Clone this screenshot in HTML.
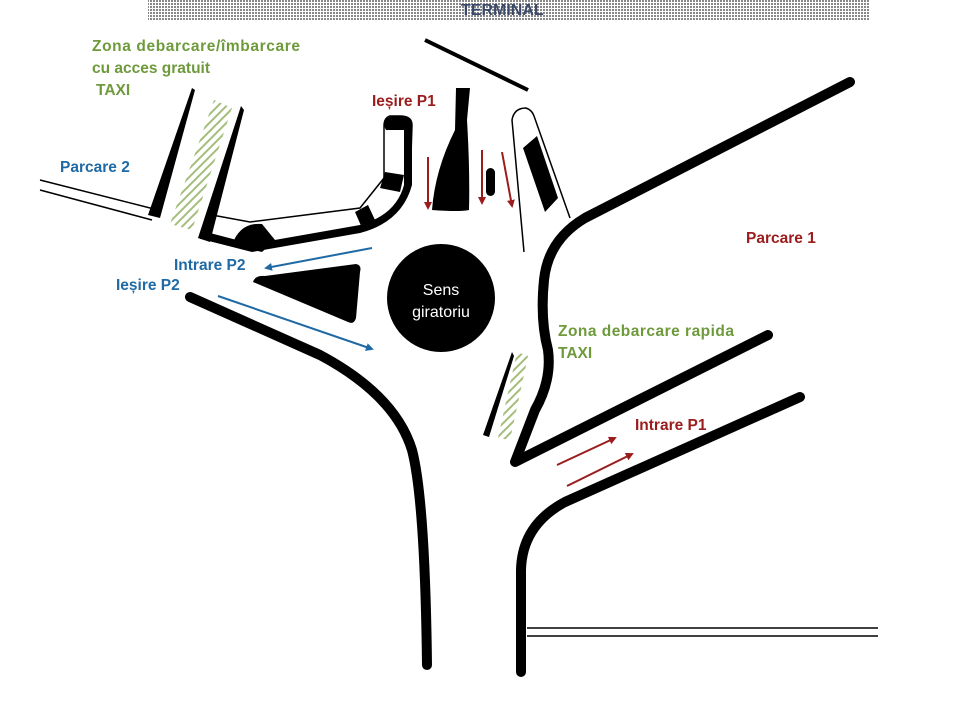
<!DOCTYPE html>
<html><head><meta charset="utf-8"><style>
html,body{margin:0;padding:0;background:#fff;}
svg{display:block;font-family:"Liberation Sans",sans-serif;}
.t{font-weight:bold;font-size:15.5px;}
</style></head><body>
<svg width="960" height="720" viewBox="0 0 960 720" xmlns="http://www.w3.org/2000/svg">
<defs>
<pattern id="dots" width="3" height="3" patternUnits="userSpaceOnUse"><rect width="3" height="3" fill="#fff"/><rect width="2" height="2" fill="#888"/></pattern>
<pattern id="hatch" width="6" height="6" patternUnits="userSpaceOnUse" patternTransform="rotate(-45)"><rect width="6" height="6" fill="#fff"/><rect width="6" height="2" fill="#a3bd7a"/></pattern>
<marker id="ar" markerWidth="8" markerHeight="8" refX="6" refY="4" orient="auto" markerUnits="userSpaceOnUse"><path d="M0,0 L8,4 L0,8 z" fill="#9b1c1c"/></marker>
<marker id="ab" markerWidth="8" markerHeight="8" refX="6" refY="4" orient="auto" markerUnits="userSpaceOnUse"><path d="M0,0 L8,4 L0,8 z" fill="#1f6aa5"/></marker>
</defs>
<rect x="148" y="0" width="722" height="20" fill="url(#dots)"/>
<text x="461" y="15" fill="#3b4a6b" font-size="16" font-weight="bold">TERMINAL</text>

<g fill="none" stroke="#000" stroke-width="10" stroke-linecap="round" stroke-linejoin="round">
<path d="M850,82 L585,218 Q548,240 544,280 Q540,320 548,350 Q552,380 535,410 L515,462 L768,335"/>
<path d="M800,397 L565,502 Q522,525 521,570 L521,672"/>
<path d="M190,297 L320,355 Q395,395 412,450 Q425,500 427,665"/>
</g>
<path d="M40,180 L158,210 M40,190 L152,220" stroke="#000" stroke-width="1.5"/>
<path d="M527,628 L878,628 M527,636 L878,636" stroke="#000" stroke-width="1.5"/>
<path d="M425,40 L528,90" stroke="#000" stroke-width="4"/>

<path d="M192,88 L195,90 L160,218 L148,215 Z" fill="#000"/>
<path d="M241,106 L244,110 L210,242 L198,238 Z" fill="#000"/>
<path d="M214,100 L232,108 L192,230 L170,224 Z" fill="url(#hatch)"/>

<path d="M200,238 L250,250 L360,232 Q400,222 410,185 L412,125 Q412,116 400,116 L390,116 Q384,118 384,126 L384,178 L360,208 L250,222 L212,215" fill="none" stroke="#000" stroke-width="1.5"/>
<path d="M205,240 L252,252 L360,233 Q402,222 412,185 L412,125 Q412,116 402,116 L392,116 Q384,118 384,126 L386,130 L404,130 L404,185 Q396,215 360,225 L252,244 L210,233 Z" fill="#000"/>
<path d="M232,245 Q240,222 262,224 L275,240 L262,252 Z" fill="#000"/>
<path d="M355,212 L368,205 L375,220 L362,228 Z" fill="#000"/>
<path d="M385,172 L404,175 L400,192 L380,188 Z" fill="#000"/>

<path d="M456,88 L470,88 L467,120 Q470,170 469,210 Q460,212 432,210 Q435,170 455,130 Z" fill="#000"/>
<rect x="486" y="168" width="9" height="28" rx="4.5" fill="#000"/>
<path d="M524,252 L512,120 Q514,108 526,108 Q532,110 534,116 L570,218" fill="none" stroke="#000" stroke-width="1.5"/>
<path d="M523,148 L537,136 L558,198 L545,212 Z" fill="#000"/>

<circle cx="441" cy="298" r="54" fill="#000"/>
<text x="441" y="295" text-anchor="middle" fill="#fff" font-size="16">Sens</text>
<text x="441" y="317" text-anchor="middle" fill="#fff" font-size="16">giratoriu</text>
<path d="M253,282 Q255,275 265,276 L356,264 Q362,265 360,272 L356,318 Q354,325 348,322 Z" fill="#000"/>

<path d="M512,352 L514,356 L489,437 L483,435 Z" fill="#000"/>
<path d="M517,352 L528,356 L510,440 L498,438 Z" fill="url(#hatch)"/>

<g stroke="#9b1c1c" stroke-width="2" marker-end="url(#ar)">
<line x1="428" y1="157" x2="428" y2="208"/>
<line x1="482" y1="150" x2="482" y2="203"/>
<line x1="502" y1="152" x2="512" y2="206"/>
<line x1="557" y1="465" x2="615" y2="438"/>
<line x1="567" y1="486" x2="632" y2="454"/>
</g>
<g stroke="#1f6aa5" stroke-width="2" marker-end="url(#ab)">
<line x1="372" y1="248" x2="266" y2="268"/>
<line x1="218" y1="296" x2="372" y2="349"/>
</g>

<g class="t">
<text x="92" y="51" fill="#6e9a3c" textLength="208">Zona debarcare/îmbarcare</text>
<text x="92" y="73" fill="#6e9a3c">cu acces gratuit</text>
<text x="96" y="95" fill="#6e9a3c">TAXI</text>
<text x="372" y="106" fill="#9b1c1c">Ieșire P1</text>
<text x="60" y="172" fill="#1f6aa5">Parcare 2</text>
<text x="746" y="243" fill="#9b1c1c">Parcare 1</text>
<text x="174" y="270" fill="#1f6aa5">Intrare P2</text>
<text x="116" y="290" fill="#1f6aa5">Ieșire P2</text>
<text x="558" y="336" fill="#6e9a3c" textLength="176">Zona debarcare rapida</text>
<text x="558" y="358" fill="#6e9a3c">TAXI</text>
<text x="635" y="430" fill="#9b1c1c">Intrare P1</text>
</g>
</svg>
</body></html>
